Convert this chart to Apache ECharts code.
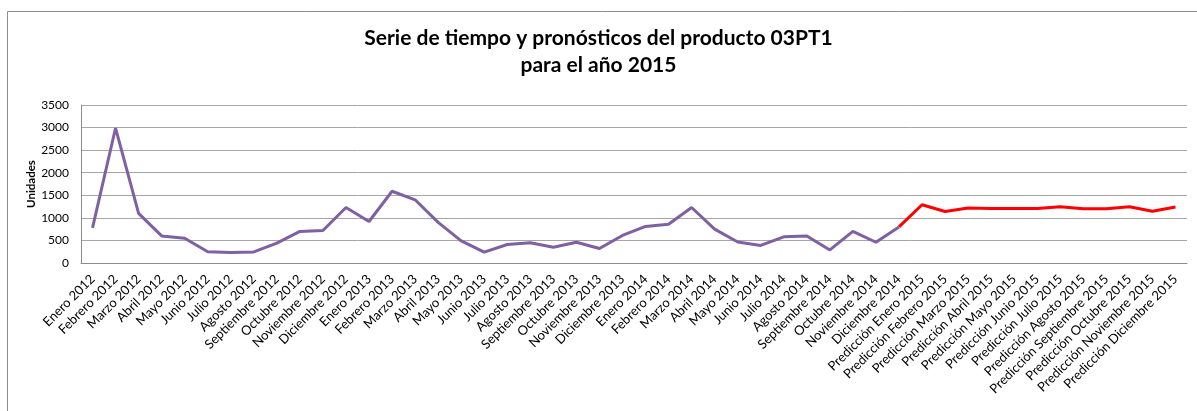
<!DOCTYPE html>
<html>
<head>
<meta charset="utf-8">
<script src="https://cdn.jsdelivr.net/npm/echarts@6/dist/echarts.min.js"></script>
<style>
html,body{margin:0;padding:0;background:#fff;}
#c{width:1197px;height:411px;}
</style>
</head>
<body>
<div id="c"></div>
<script>
const categories = [
  "Enero 2012","Febrero 2012","Marzo 2012","Abril 2012","Mayo 2012","Junio 2012","Julio 2012","Agosto 2012","Septiembre 2012","Octubre 2012","Noviembre 2012","Diciembre 2012",
  "Enero 2013","Febrero 2013","Marzo 2013","Abril 2013","Mayo 2013","Junio 2013","Julio 2013","Agosto 2013","Septiembre 2013","Octubre 2013","Noviembre 2013","Diciembre 2013",
  "Enero 2014","Febrero 2014","Marzo 2014","Abril 2014","Mayo 2014","Junio 2014","Julio 2014","Agosto 2014","Septiembre 2014","Octubre 2014","Noviembre 2014","Diciembre 2014",
  "Predicción Enero 2015","Predicción Febrero 2015","Predicción Marzo 2015","Predicción Abril 2015","Predicción Mayo 2015","Predicción Junio 2015","Predicción Julio 2015","Predicción Agosto 2015","Predicción Septiembre 2015","Predicción Octubre 2015","Predicción Noviembre 2015","Predicción Diciembre 2015"
];
const historico = [
  780, 2990, 1100, 600, 550, 250, 230, 245, 440, 700, 720, 1230,
  920, 1590, 1400, 900, 490, 240, 410, 450, 350, 460, 320, 610,
  810, 860, 1230, 750, 465, 390, 580, 600, 290, 700, 460, 800
];
const prediccion = [1290, 1140, 1220, 1210, 1210, 1205, 1245, 1200, 1200, 1245, 1145, 1240];
const yTicks = [0, 500, 1000, 1500, 2000, 2500, 3000, 3500];

const histSeries = historico.concat(prediccion.map(() => null));
const predSeries = historico.map((v, i) => i === historico.length - 1 ? v : null).concat(prediccion);

const chart = echarts.init(document.getElementById('c'), null, {renderer: 'canvas'});
chart.setOption({
  animation: false,
  backgroundColor: '#ffffff',
  graphic: [{
    type: 'rect', left: 5, top: 9, silent: true,
    shape: {width: 1200, height: 420},
    style: {fill: 'none', stroke: '#8c8c8c', lineWidth: 1}
  }],
  title: {
    text: 'Serie de tiempo y pronósticos del producto 03PT1\npara el año 2015',
    left: 'center', top: 20,
    textStyle: {fontFamily: 'Lato', fontWeight: 'bold', fontSize: 21, lineHeight: 27, color: '#000', align: 'center'}
  },
  grid: {left: 81, right: 10, top: 105, bottom: 148, containLabel: false},
  xAxis: {
    type: 'category', data: categories, boundaryGap: true,
    axisLine: {show: true, lineStyle: {color: '#8c8c8c', width: 1}},
    axisTick: {show: false},
    axisLabel: {interval: 0, rotate: 45, margin: 14, fontFamily: 'Lato', fontSize: 13, color: '#000'},
    splitLine: {show: false}
  },
  yAxis: {
    type: 'value', min: yTicks[0], max: yTicks[yTicks.length - 1], interval: 500,
    name: 'Unidades', nameLocation: 'middle', nameGap: 44, nameMoveOverlap: false,
    nameTextStyle: {fontFamily: 'Lato', fontWeight: 'bold', fontSize: 11.5, color: '#000'},
    axisLine: {show: true, lineStyle: {color: '#8c8c8c', width: 1}},
    axisTick: {show: false},
    axisLabel: {margin: 12, fontFamily: 'Lato', fontSize: 12, color: '#000', formatter: v => String(v)},
    splitLine: {show: true, lineStyle: {color: '#a6a6a6', width: 1}}
  },
  series: [
    {type: 'line', name: 'Histórico', data: histSeries, showSymbol: false, symbol: 'none',
     lineStyle: {color: '#7e60a3', width: 3}, itemStyle: {color: '#7e60a3'}, connectNulls: false, z: 3},
    {type: 'line', name: 'Predicción', data: predSeries, showSymbol: false, symbol: 'none',
     lineStyle: {color: '#ff0000', width: 3}, itemStyle: {color: '#ff0000'}, connectNulls: false, z: 2}
  ]
});
</script>
</body>
</html>
